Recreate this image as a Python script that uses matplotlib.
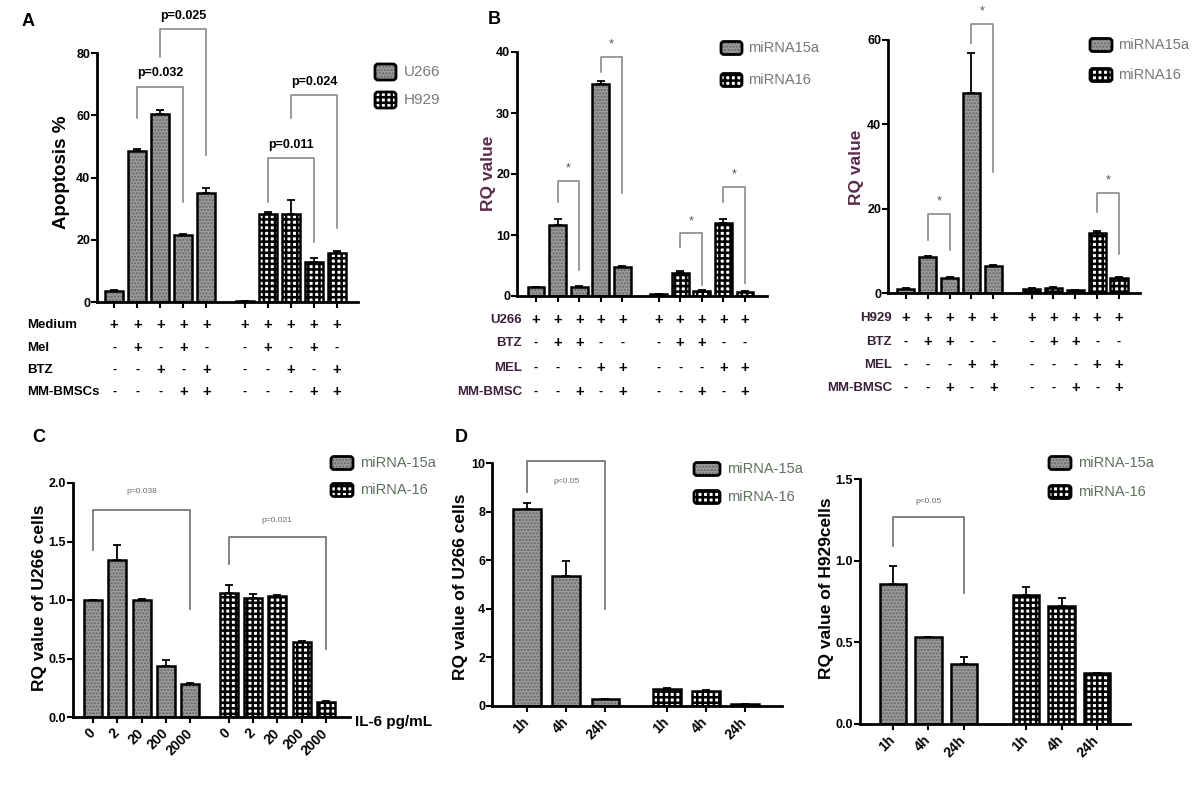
import numpy as np
import matplotlib
matplotlib.use('Agg')
import matplotlib.pyplot as plt
import matplotlib.transforms as mtransforms
from matplotlib.patches import FancyBboxPatch

plt.rcParams['font.family'] = ['Liberation Sans', 'DejaVu Sans']
plt.rcParams['font.weight'] = 'bold'
plt.rcParams['hatch.linewidth'] = 1.3

# ---------------- data ----------------
# A: apoptosis %
A_u266 = [3.5, 48.5, 60.5, 21.5, 35.0]
A_u266_err = [0.5, 0.6, 1.3, 0.4, 1.6]
A_h929 = [0.3, 28.3, 28.3, 13.0, 15.7]
A_h929_err = [0.0, 0.5, 4.5, 1.2, 0.6]
A_rows = ['Medium', 'Mel', 'BTZ', 'MM-BMSCs']
A_table = ['+++++' '+++++', '-+-+-' '-+-+-', '--+-+' '--+-+', '---++' '---++']

# B left: U266
BL_15a = [1.4, 11.6, 1.5, 34.7, 4.8]
BL_15a_err = [0.1, 1.1, 0.1, 0.6, 0.1]
BL_16 = [0.3, 3.8, 0.9, 12.0, 0.7]
BL_16_err = [0.0, 0.3, 0.1, 0.6, 0.05]
BL_rows = ['U266', 'BTZ', 'MEL', 'MM-BMSC']
BL_table = ['+++++' '+++++', '-++--' '-++--', '---++' '---++', '--+-+' '--+-+']

# B right: H929
BR_15a = [1.0, 8.5, 3.5, 47.5, 6.3]
BR_15a_err = [0.1, 0.3, 0.3, 9.5, 0.4]
BR_16 = [1.0, 1.3, 0.6, 14.2, 3.5]
BR_16_err = [0.1, 0.1, 0.05, 0.4, 0.3]
BR_rows = ['H929', 'BTZ', 'MEL', 'MM-BMSC']
BR_table = BL_table

# C: IL-6 dose
C_doses = ['0', '2', '20', '200', '2000']
C_15a = [1.0, 1.34, 1.0, 0.44, 0.28]
C_15a_err = [0.0, 0.13, 0.01, 0.05, 0.01]
C_16 = [1.06, 1.02, 1.03, 0.64, 0.13]
C_16_err = [0.07, 0.03, 0.01, 0.01, 0.01]

# D: time course
D_times = ['1h', '4h', '24h']
DL_15a = [8.1, 5.35, 0.27]
DL_15a_err = [0.25, 0.6, 0.02]
DL_16 = [0.7, 0.6, 0.08]
DL_16_err = [0.03, 0.04, 0.01]
DR_15a = [0.86, 0.53, 0.37]
DR_15a_err = [0.11, 0.005, 0.04]
DR_16 = [0.79, 0.72, 0.31]
DR_16_err = [0.05, 0.05, 0.005]

# brackets: (bar i, bar j, y at i, y top, y at j, label, label y)
A_br = [(1, 3, 59, 69, 32, 'p=0.032', 71.5), (2, 4, 78.8, 87.8, 47.3, 'p=0.025', 90.0),
        (6, 8, 32.2, 46.3, 19.3, 'p=0.011', 48.5), (7, 9, 59, 66.5, 23.8, 'p=0.024', 68.7)]
BL_br = [(1, 2, 15.4, 18.9, 4.3, '*', 20.0), (3, 4, 36.7, 39.2, 16.9, '*', 40.3),
         (6, 7, 8.0, 10.3, 1.8, '*', 11.2), (8, 9, 15.4, 17.9, 2.1, '*', 19.0)]
BR_br = [(1, 2, 12.6, 18.7, 10.2, '*', 20.3), (3, 4, 59.3, 63.7, 28.7, '*', 65.3),
         (8, 9, 19.2, 23.7, 9.2, '*', 25.3)]
C_br = [(0, 4, 1.43, 1.77, 0.92, 'p=0.038', 1.90), (5, 9, 1.31, 1.54, 0.58, 'p=0.021', 1.65)]
DL_br = [(0, 2, 8.8, 10.1, 4.0, 'p<0.05', 9.1)]
DR_br = [(0, 2, 1.09, 1.27, 0.80, 'p<0.05', 1.34)]

# ---------------- figure ----------------
W, H = 1200, 790
fig = plt.figure(figsize=(W / 100, H / 100), dpi=100)
fig.patch.set_facecolor('white')
pxT = mtransforms.Affine2D().scale(1 / W, -1 / H).translate(0, 1) + fig.transFigure

GRAY = '#999999'
GRAY_HATCH = '#666666'
CHECK_LW = 1.8


def add_ax(l, t, r, b):
    ax = fig.add_axes([l / W, 1 - b / H, (r - l) / W, (b - t) / H])
    for s in ['top', 'right']:
        ax.spines[s].set_visible(False)
    for s in ['left', 'bottom']:
        ax.spines[s].set_linewidth(2)
    ax.tick_params(direction='out', length=4, width=1.5, labelsize=9, pad=1)
    ax.patch.set_alpha(0)
    return ax


def positions(n, gap):
    return np.concatenate([np.arange(n), np.arange(n) + n - 1 + gap])


def bars(ax, x, h, err, style, w):
    if style == 'gray':
        with plt.rc_context({'hatch.linewidth': 1.0}):
            ax.bar(x, h, w, color=GRAY, hatch='.....', edgecolor=GRAY_HATCH, linewidth=0)
    else:
        with plt.rc_context({'hatch.linewidth': CHECK_LW}):
            ax.bar(x, h, w, color='white', hatch='+++', edgecolor='black', linewidth=0)
    ax.bar(x, h, w, fill=False, edgecolor='black', linewidth=1.8)
    ax.errorbar(x, h, yerr=[np.zeros(len(err)), err], fmt='none', ecolor='black',
                elinewidth=1.3, capsize=3, capthick=1.3)


def brackets(ax, x, br, color, fs, weight='bold'):
    for i, j, yl, yt, yr, lab, ty in br:
        ax.plot([x[i], x[i], x[j], x[j]], [yl, yt, yt, yr], color=color, lw=1.2, clip_on=False)
        if lab == '*':
            tc = '#555555'
        elif weight == 'bold':
            tc = 'black'
        else:
            tc = color
        ax.text((x[i] + x[j]) / 2, ty, lab, ha='center', va='bottom', fontsize=fs,
                color=tc, fontweight=weight, clip_on=False)


def legend(x, ys, labels, color, fs, w=22, h=13, gap=6):
    for y, lab, style in zip(ys, labels, ['gray', 'white']):
        if style == 'gray':
            with plt.rc_context({'hatch.linewidth': 1.0}):
                p = FancyBboxPatch((x, y - h / 2), w, h, boxstyle='round,pad=0,rounding_size=3',
                                   transform=pxT, facecolor=GRAY, hatch='.....',
                                   edgecolor=GRAY_HATCH, linewidth=0)
        else:
            with plt.rc_context({'hatch.linewidth': CHECK_LW}):
                p = FancyBboxPatch((x, y - h / 2), w, h, boxstyle='round,pad=0,rounding_size=3',
                                   transform=pxT, facecolor='white', hatch='+++',
                                   edgecolor='black', linewidth=0)
        fig.patches.append(p)
        fig.patches.append(FancyBboxPatch((x, y - h / 2), w, h, boxstyle='round,pad=0,rounding_size=3',
                                          transform=pxT, fill=False, edgecolor='black', linewidth=2))
        fig.text(x + w + gap, y, lab, transform=pxT, ha='left', va='center', fontsize=fs,
                 color=color, fontweight='normal')


def table(ax, x, rows, table, ys, lab_x, ha, color):
    tr = mtransforms.blended_transform_factory(ax.transData, pxT)
    for r, row, y in zip(rows, table, ys):
        fig.text(lab_x, y, r, transform=pxT, ha=ha, va='center', fontsize=9.5, color=color)
        for xi, c in zip(x, row):
            ax.text(xi, y, c, transform=tr, ha='center', va='center',
                    fontsize=10.5 if c == '+' else 9, fontweight='bold', color='black')


def ylabel(x, y, text, fs=12.5, color='black'):
    fig.text(x, y, text, transform=pxT, rotation=90, ha='center', va='center',
             fontsize=fs, color=color)


# ---------- A ----------
ax = add_ax(97, 53, 358, 302)
xa = positions(5, 1.65)
bars(ax, xa[:5], A_u266, A_u266_err, 'gray', 0.78)
bars(ax, xa[5:], A_h929, A_h929_err, 'white', 0.78)
ax.set_ylim(0, 80)
ax.set_yticks([0, 20, 40, 60, 80])
ax.set_xlim(-0.74, 10.56)
ax.set_xticks(xa)
ax.set_xticklabels([])
brackets(ax, xa, A_br, '#8a8a8a', 9)
table(ax, xa, A_rows, A_table, [325, 348, 370, 392], 27, 'left', 'black')
ylabel(62, 172, 'Apoptosis %', fs=13.5)
legend(375, [72, 100], ['U266', 'H929'], '#7a7a7a', 11, w=21, h=16, gap=8)
fig.text(22, 22, 'A', transform=pxT, fontsize=13, ha='left', va='center')

# ---------- B left ----------
ax = add_ax(517, 52, 767, 296)
xb = positions(5, 1.67)
bars(ax, xb[:5], BL_15a, BL_15a_err, 'gray', 0.78)
bars(ax, xb[5:], BL_16, BL_16_err, 'white', 0.78)
ax.set_ylim(0, 40)
ax.set_yticks([0, 10, 20, 30, 40])
ax.set_xlim(-0.88, 10.69)
ax.set_xticks(xb)
ax.set_xticklabels([])
brackets(ax, xb, BL_br, '#8a8a8a', 9, weight='normal')
table(ax, xb, BL_rows, BL_table, [320, 343, 368, 392], 522, 'right', '#3a2038')
ylabel(489, 173, 'RQ value', color='#5a2a4c')
legend(721, [48, 80], ['miRNA15a', 'miRNA16'], '#777777', 10.5, w=21)
fig.text(488, 20, 'B', transform=pxT, fontsize=13, ha='left', va='center')

# ---------- B right ----------
ax = add_ax(888, 40, 1140, 293)
xr = positions(5, 1.75)
bars(ax, xr[:5], BR_15a, BR_15a_err, 'gray', 0.78)
bars(ax, xr[5:], BR_16, BR_16_err, 'white', 0.78)
ax.set_ylim(0, 60)
ax.set_yticks([0, 20, 40, 60])
ax.set_xlim(-0.82, 10.71)
ax.set_xticks(xr)
ax.set_xticklabels([])
brackets(ax, xr, BR_br, '#8a8a8a', 9, weight='normal')
table(ax, xr, BR_rows, BR_table, [318, 342, 365, 388], 892, 'right', '#3a2038')
ylabel(856, 167, 'RQ value', color='#5a2a4c')
legend(1090, [45, 75], ['miRNA15a', 'miRNA16'], '#777777', 10.5, w=22)

# ---------- C ----------
ax = add_ax(73, 483, 350, 717)
xc = positions(5, 1.57)
bars(ax, xc[:5], C_15a, C_15a_err, 'gray', 0.74)
bars(ax, xc[5:], C_16, C_16_err, 'white', 0.74)
ax.set_ylim(0, 2.0)
ax.set_yticks([0, 0.5, 1.0, 1.5, 2.0])
ax.set_yticklabels(['0.0', '0.5', '1.0', '1.5', '2.0'])
ax.set_xlim(-0.82, 10.56)
ax.set_xticks(xc)
ax.set_xticklabels(C_doses + C_doses, rotation=45, ha='right', va='center',
                   rotation_mode='anchor', fontsize=10)
ax.tick_params(axis='x', pad=6)
brackets(ax, xc, C_br, '#667066', 6, weight='normal')
fig.text(355, 722, 'IL-6 pg/mL', transform=pxT, ha='left', va='center', fontsize=11)
ylabel(40, 598, 'RQ value of U266 cells')
legend(331, [463, 490], ['miRNA-15a', 'miRNA-16'], '#5f6f5f', 10.5, gap=7)
fig.text(32, 438, 'C', transform=pxT, fontsize=13, ha='left', va='center')

# ---------- D left ----------
ax = add_ax(492, 463, 782, 706)
xd = positions(3, 1.58)
bars(ax, xd[:3], DL_15a, DL_15a_err, 'gray', 0.7)
bars(ax, xd[3:], DL_16, DL_16_err, 'white', 0.7)
ax.set_ylim(0, 10)
ax.set_yticks([0, 2, 4, 6, 8, 10])
ax.set_xlim(-0.9, 6.53)
ax.set_xticks(xd)
ax.set_xticklabels(D_times + D_times, rotation=45, ha='right', va='center',
                   rotation_mode='anchor', fontsize=10)
ax.tick_params(axis='x', pad=6)
brackets(ax, xd, DL_br, '#667066', 6, weight='normal')
ylabel(461, 587, 'RQ value of U266 cells')
legend(694, [469, 497], ['miRNA-15a', 'miRNA-16'], '#5f6f5f', 10.5, w=26, gap=7)
fig.text(455, 438, 'D', transform=pxT, fontsize=13, ha='left', va='center')

# ---------- D right ----------
ax = add_ax(860, 479, 1130, 724)
xe = positions(3, 1.75)
bars(ax, xe[:3], DR_15a, DR_15a_err, 'gray', 0.75)
bars(ax, xe[3:], DR_16, DR_16_err, 'white', 0.75)
ax.set_ylim(0, 1.5)
ax.set_yticks([0, 0.5, 1.0, 1.5])
ax.set_yticklabels(['0.0', '0.5', '1.0', '1.5'])
ax.set_xlim(-0.93, 6.68)
ax.set_xticks(xe)
ax.set_xticklabels(D_times + D_times, rotation=45, ha='right', va='center',
                   rotation_mode='anchor', fontsize=10)
ax.tick_params(axis='x', pad=6)
brackets(ax, xe, DR_br, '#667066', 6, weight='normal')
ylabel(826, 588, 'RQ value of H929cells')
legend(1049, [463, 492], ['miRNA-15a', 'miRNA-16'], '#5f6f5f', 10.5, gap=7)

fig.savefig('out.png', dpi=100)
